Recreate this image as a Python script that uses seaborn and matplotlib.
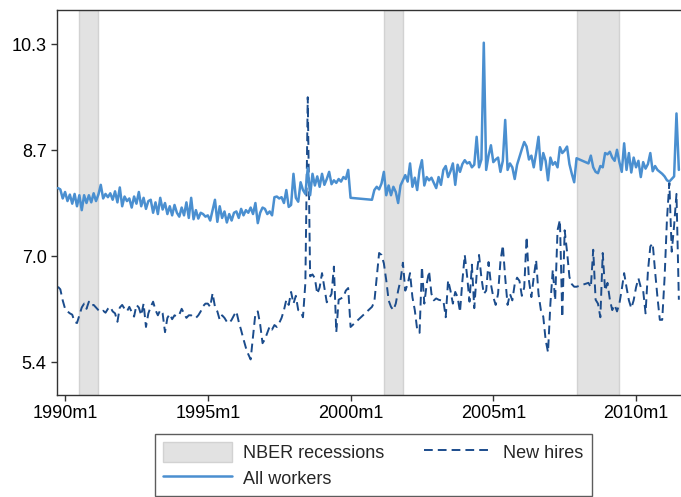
import numpy as np
import pandas as pd
import matplotlib
matplotlib.use("Agg")
import matplotlib.pyplot as plt
from matplotlib.patches import Patch
import seaborn as sns

# Monthly sample, with the months the survey has no observations for
first_month = "1989-10"
last_month = "2011-07"
months_without_data = [
    "2000-02", "2000-03", "2000-04", "2000-05", "2000-06", "2000-07", "2000-08", "2000-09",
    "2008-01", "2008-02", "2008-03", "2008-04",
]

# NBER recession dates (peak month, trough month)
recession_starts = ["1990-07", "2001-03", "2007-12"]
recession_ends = ["1991-03", "2001-11", "2009-06"]

all_workers = [
    8.08, 8.06, 7.92,
    8.02, 7.88, 7.98, 7.84, 7.99, 7.80, 7.97, 7.74, 7.97, 7.85, 7.97, 7.86,
    8.00, 7.88, 7.98, 8.13, 7.92, 7.99, 7.94, 8.00, 7.90, 8.03, 7.86, 8.09,
    7.80, 7.95, 7.88, 7.92, 7.78, 7.95, 7.84, 8.02, 7.80, 7.93, 7.76, 7.88,
    7.90, 7.70, 7.86, 7.68, 7.93, 7.75, 7.85, 7.68, 7.80, 7.66, 7.82, 7.70,
    7.64, 7.78, 7.66, 7.86, 7.62, 7.93, 7.60, 7.74, 7.61, 7.70, 7.68, 7.64,
    7.66, 7.58, 7.74, 7.90, 7.56, 7.80, 7.62, 7.72, 7.55, 7.68, 7.58, 7.70,
    7.72, 7.62, 7.76, 7.66, 7.74, 7.70, 7.78, 7.68, 7.85, 7.54, 7.70, 7.78,
    7.76, 7.68, 7.72, 7.66, 7.94, 7.95, 7.92, 7.94, 7.85, 8.05, 7.79, 7.82,
    8.30, 7.93, 7.87, 8.17, 8.05, 7.99, 8.39, 7.97, 8.30, 8.12, 8.26, 8.10,
    8.30, 8.13, 8.22, 8.33, 8.14, 8.20, 8.16, 8.22, 8.18, 8.25, 8.22, 8.36,
    7.93, 7.90, 8.05, 8.10,
    8.06, 8.15, 8.33, 7.97, 8.12, 7.97, 8.10, 8.02, 7.85, 8.12, 8.20, 8.28,
    8.18, 8.46, 8.10, 8.24, 8.05, 8.36, 8.51, 8.12, 8.25, 8.20, 8.24, 8.16,
    8.08, 8.25, 8.13, 8.36, 8.42, 8.25, 8.34, 8.46, 8.13, 8.44, 8.33, 8.45,
    8.51, 8.46, 8.48, 8.40, 8.44, 8.87, 8.40, 8.52, 10.32, 8.36, 8.58, 8.74,
    8.48, 8.52, 8.55, 8.33, 8.50, 9.13, 8.36, 8.46, 8.40, 8.22, 8.44, 8.56,
    8.68, 8.79, 8.72, 8.52, 8.58, 8.40, 8.62, 8.87, 8.36, 8.62, 8.50, 8.20,
    8.55, 8.44, 8.48, 8.40, 8.71, 8.62, 8.66, 8.72, 8.45, 8.30, 8.17, 8.54,
    8.46, 8.58, 8.40, 8.33, 8.31, 8.42, 8.40, 8.62,
    8.60, 8.64, 8.55, 8.50, 8.67, 8.48, 8.33, 8.77, 8.36, 8.62, 8.32, 8.55,
    8.40, 8.50, 8.25, 8.48, 8.38, 8.45, 8.62, 8.34, 8.42, 8.36, 8.33, 8.30,
    8.26, 8.20, 8.18, 8.22, 8.26, 9.23, 8.36,
]

new_hires = [
    6.56, 6.52, 6.35,
    6.22, 6.18, 6.15, 6.13, 6.02, 6.00, 6.12, 6.24, 6.30, 6.22, 6.33, 6.27,
    6.28, 6.24, 6.20, 6.17, 6.19, 6.16, 6.22, 6.25, 6.18, 6.15, 6.02, 6.24,
    6.28, 6.22, 6.18, 6.25, 6.17, 6.10, 6.28, 6.24, 6.12, 6.30, 5.94, 6.15,
    6.25, 6.33, 6.20, 6.12, 6.20, 6.15, 5.86, 6.08, 6.14, 6.06, 6.12, 6.10,
    6.13, 6.22, 6.15, 6.08, 6.12, 6.12, 6.09, 6.08, 6.12, 6.18, 6.26, 6.30,
    6.30, 6.25, 6.46, 6.25, 6.18, 6.05, 6.12, 6.08, 6.02, 6.00, 6.05, 6.12,
    6.18, 6.02, 5.89, 5.75, 5.62, 5.52, 5.44, 5.80, 6.15, 6.18, 5.98, 5.69,
    5.75, 5.85, 5.95, 5.90, 5.97, 5.94, 6.00, 6.08, 6.20, 6.36, 6.28, 6.48,
    6.30, 6.42, 6.20, 6.18, 6.09, 6.62, 9.48, 6.72, 6.75, 6.69, 6.45, 6.55,
    6.77, 6.55, 6.32, 6.38, 6.45, 6.87, 5.86, 6.36, 6.38, 6.40, 6.50, 6.54,
    5.94, 6.25, 6.33, 6.70,
    7.08, 7.05, 6.92, 6.66, 6.35, 6.25, 6.20, 6.30, 6.50, 6.66, 6.93, 6.50,
    6.60, 6.77, 6.40, 6.20, 5.90, 5.85, 6.87, 6.30, 6.60, 6.80, 6.45, 6.35,
    6.38, 6.36, 6.35, 6.35, 6.09, 6.66, 6.50, 6.30, 6.48, 6.40, 6.17, 6.65,
    7.05, 6.72, 6.33, 6.90, 6.23, 6.75, 7.05, 6.70, 6.45, 6.50, 6.94, 6.60,
    6.40, 6.28, 6.45, 6.95, 7.20, 6.70, 6.28, 6.45, 6.35, 6.60, 6.70, 6.65,
    6.42, 6.55, 7.33, 6.65, 6.40, 6.71, 6.97, 6.45, 6.20, 6.10, 5.74, 5.55,
    6.30, 6.82, 6.35, 7.43, 7.59, 6.09, 7.43, 7.10, 6.71, 6.60, 6.56, 6.56,
    6.62, 6.55, 7.13, 6.36, 6.30, 6.09, 7.08, 6.50,
    6.62, 6.36, 6.20, 6.28, 6.18, 6.30, 6.52, 6.77, 6.55, 6.35, 6.23, 6.35,
    6.55, 6.69, 6.55, 6.50, 6.15, 6.80, 7.18, 7.23, 6.80, 6.40, 6.05, 6.05,
    6.70, 7.60, 8.16, 7.10, 7.50, 7.99, 6.36,
]

xtick_labels = ["1990m1", "1995m1", "2000m1", "2005m1", "2010m1"]
ytick_labels = ["5.4", "7.0", "8.7", "10.3"]


def stata_month(p):
    """Months since 1960m1, as in Stata's %tm format."""
    p = pd.Period(p, freq="M")
    return (p.year - 1960) * 12 + (p.month - 1)


periods = pd.period_range(first_month, last_month, freq="M")
periods = periods[~periods.isin(pd.PeriodIndex(months_without_data, freq="M"))]
tm = [stata_month(p) for p in periods]

df = pd.DataFrame({"tm": tm, "All workers": all_workers, "New hires": new_hires})

sns.set_theme(style="white")
plt.rcParams["font.family"] = ["Liberation Sans", "DejaVu Sans"]
plt.rcParams["font.size"] = 13

fig = plt.figure(figsize=(6.81, 4.97), dpi=100)
ax = fig.add_axes([57 / 681, 1 - 395 / 497, 1 - 57 / 681, (395 - 10) / 497])

shade_color = "#e2e2e2"
for s, e in zip(recession_starts, recession_ends):
    ax.axvspan(stata_month(s), stata_month(e), facecolor=shade_color,
               edgecolor="#d2d2d2", linewidth=1.0, zorder=0)

aw_color = "#4a8fd0"
nh_color = "#1b4c8c"
sns.lineplot(data=df, x="tm", y="All workers", ax=ax, color=aw_color,
             linewidth=1.8, errorbar=None, sort=False, zorder=3)
sns.lineplot(data=df, x="tm", y="New hires", ax=ax, color=nh_color,
             linewidth=1.4, linestyle=(0, (4.5, 2.6)), errorbar=None,
             sort=False, zorder=2)

ax.set_xlim(356.6, 618.9)
ax.set_ylim(4.892, 10.824)

xt = [stata_month(lbl.replace("m", "-")) for lbl in xtick_labels]
ax.set_xticks(xt)
ax.set_xticklabels(xtick_labels)
yt = np.linspace(float(ytick_labels[0]), float(ytick_labels[-1]), len(ytick_labels))
ax.set_yticks(yt)
ax.set_yticklabels(ytick_labels)
ax.set_xlabel("")
ax.set_ylabel("")

for side in ["left", "bottom", "top"]:
    ax.spines[side].set_color("#333333")
    ax.spines[side].set_linewidth(1.0)
ax.spines["right"].set_visible(False)
ax.tick_params(axis="both", direction="out", length=4.5, width=1.0,
               color="#333333", labelsize=13, labelcolor="black", pad=3)
ax.tick_params(axis="x", bottom=True)
ax.tick_params(axis="y", left=True)

handles = [
    Patch(facecolor=shade_color, edgecolor="#d2d2d2", label="NBER recessions"),
    plt.Line2D([], [], color=aw_color, linewidth=1.8, label="All workers"),
    plt.Line2D([], [], color=nh_color, linewidth=1.4,
               linestyle=(0, (4.5, 2.6)), label="New hires"),
]
leg = fig.legend(handles=handles, ncol=2, loc="upper center",
                 bbox_to_anchor=(373.5 / 681, 1 - 434 / 497),
                 borderaxespad=0.0,
                 frameon=True, fancybox=False, edgecolor="#333333",
                 fontsize=13, handlelength=3.8, handleheight=1.3,
                 handletextpad=0.6, columnspacing=2.2, labelspacing=0.35,
                 borderpad=0.45)
leg.get_frame().set_linewidth(1.0)

fig.savefig("out.png", dpi=100)
